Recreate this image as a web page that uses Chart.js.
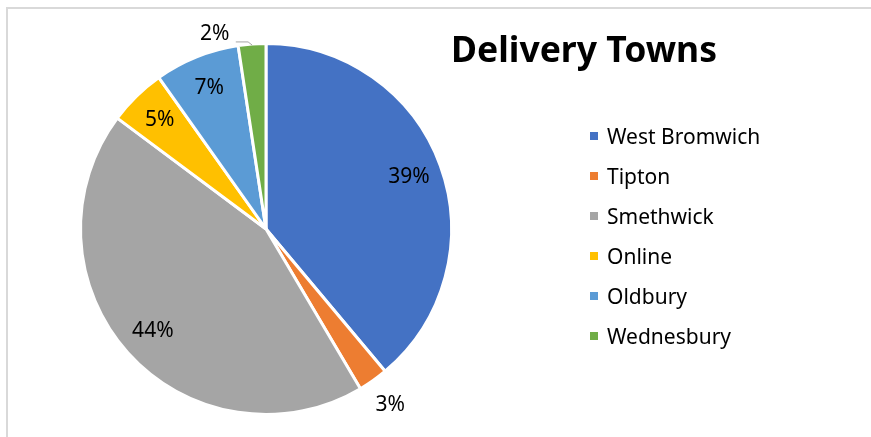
<!DOCTYPE html>
<html>
  <head>
    <meta charset="UTF-8" />
    <title>Delivery Towns</title>
    <script src="https://cdn.jsdelivr.net/npm/chart.js"></script>
    <style>
      * {
        margin: 0;
        padding: 0;
        box-sizing: border-box;
      }

      body {
        width: 871px;
        height: 437px;
        overflow: hidden;
        position: relative;
        background-color: #fff;
        font-family: "Noto Sans", sans-serif;
        color: #000;
      }

      #frame {
        position: absolute;
        left: 6px;
        top: 7px;
        width: 900px;
        height: 460px;
        border-top: 2px solid #d9d9d9;
        border-left: 2px solid #d9d9d9;
      }

      #chart {
        position: absolute;
        left: 0;
        top: 0;
      }

      #title {
        position: absolute;
        left: 584px;
        top: 31px;
        transform: translateX(-50%);
        font-size: 35.5px;
        line-height: 35px;
        font-weight: bold;
        white-space: nowrap;
      }

      #legend {
        position: absolute;
        left: 590px;
        top: 116px;
        list-style: none;
      }

      #legend li {
        display: flex;
        align-items: center;
        height: 40px;
        font-size: 21px;
        white-space: nowrap;
      }

      #legend .box {
        width: 8px;
        height: 8px;
        margin-right: 9px;
      }
    </style>
  </head>
  <body>
    <div id="frame"></div>
    <canvas id="chart" width="871" height="437"></canvas>
    <div id="title">Delivery Towns</div>
    <ul id="legend"></ul>

    <script>
      // data (share of deliveries, %)
      const towns = ["West Bromwich", "Tipton", "Smethwick", "Online", "Oldbury", "Wednesbury"];
      const shares = [38.9, 2.6, 43.7, 5.0, 7.4, 2.4];
      const colors = ["#4472C4", "#ED7D31", "#A5A5A5", "#FFC000", "#5B9BD5", "#70AD47"];

      // legend
      const legend = document.getElementById("legend");
      towns.forEach((name, i) => {
        const li = document.createElement("li");
        const box = document.createElement("span");
        box.className = "box";
        box.style.backgroundColor = colors[i];
        li.appendChild(box);
        li.appendChild(document.createTextNode(name));
        legend.appendChild(li);
      });

      // percent labels, Excel style: inside for big slices, outside for small ones
      const pctLabels = {
        id: "pctLabels",
        afterDatasetsDraw(chart) {
          const ctx = chart.ctx;
          const meta = chart.getDatasetMeta(0);
          const data = chart.data.datasets[0].data;
          const total = data.reduce((a, b) => a + b, 0);
          ctx.save();
          ctx.font = '21px "Noto Sans"';
          ctx.fillStyle = "#000";
          ctx.textAlign = "center";
          ctx.textBaseline = "middle";
          meta.data.forEach((arc, i) => {
            const pct = Math.round((data[i] / total) * 100);
            const mid = (arc.startAngle + arc.endAngle) / 2;
            const r = arc.outerRadius;
            const small = pct < 4;
            let x = arc.x + Math.cos(mid) * r * (small ? 1.16 : 0.82);
            let y = arc.y + Math.sin(mid) * r * (small ? 1.16 : 0.82);
            if (i === data.length - 1) {
              // last slice label is pushed to the left with a leader line
              x -= 35;
              y += 20;
              const ex = arc.x + Math.cos(mid) * (r - 1);
              const ey = arc.y + Math.sin(mid) * (r - 1);
              ctx.strokeStyle = "#a6a6a6";
              ctx.lineWidth = 1;
              ctx.beginPath();
              ctx.moveTo(x + 21, y + 7.5);
              ctx.lineTo(ex - 4, y + 7.5);
              ctx.lineTo(ex, ey);
              ctx.stroke();
            }
            ctx.fillText(pct + "%", x, y);
          });
          ctx.restore();
        },
      };

      const ctx = document.getElementById("chart").getContext("2d");
      const chart = new Chart(ctx, {
        type: "pie",
        data: {
          labels: towns,
          datasets: [
            {
              data: shares,
              backgroundColor: colors,
              borderColor: "#fff",
              borderWidth: 3,
            },
          ],
        },
        options: {
          responsive: false,
          animation: false,
          layout: {
            padding: { left: 79, top: 42, bottom: 21, right: 418 },
          },
          plugins: {
            legend: { display: false },
            tooltip: { enabled: false },
          },
        },
        plugins: [pctLabels],
      });
    </script>
  </body>
</html>
